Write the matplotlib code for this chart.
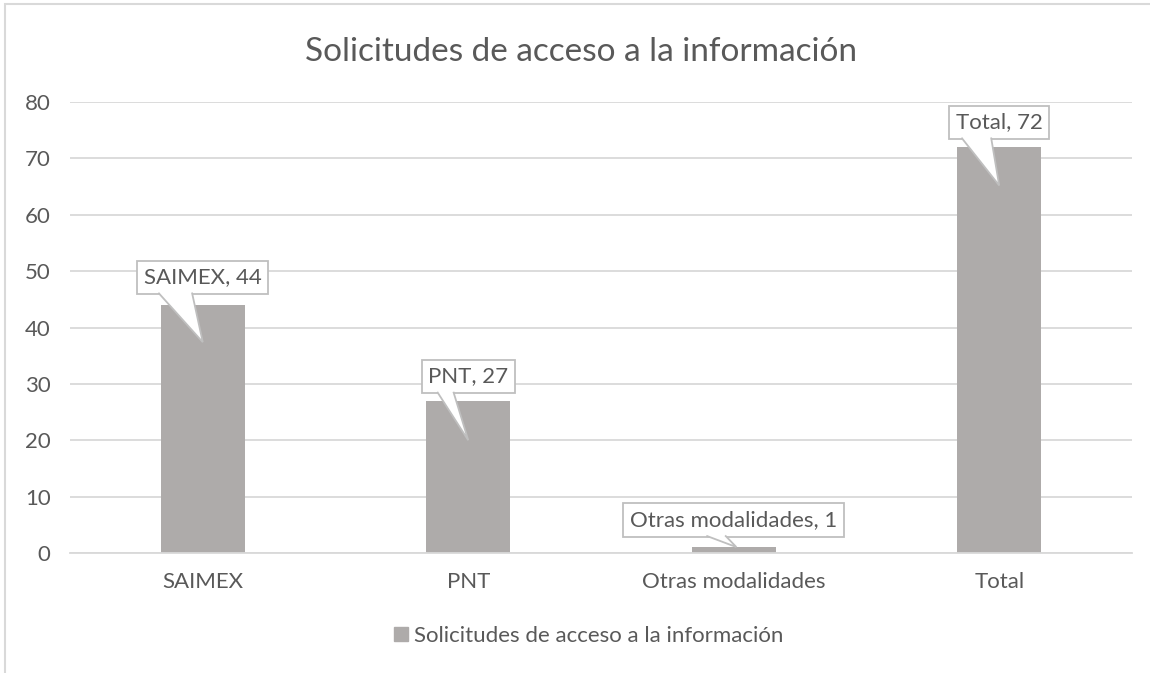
import matplotlib.pyplot as plt
from matplotlib.lines import Line2D
from matplotlib.patches import Polygon, Rectangle

# Data
categories = ["SAIMEX", "PNT", "Otras modalidades", "Total"]
values = [44, 27, 1, 72]
series_name = "Solicitudes de acceso a la información"
title = "Solicitudes de acceso a la información"
y_ticks = [0, 10, 20, 30, 40, 50, 60, 70, 80]

# Callout placement, relative to each bar (box centre / tail tip, in data units)
box_dy = [4.9, 4.3, 4.85, 4.4]
tip_dx = [0.0, 0.0, 0.01, 0.0]
tip_dy = [-6.6, -7.0, 0.05, -6.8]
tail_base = [(-0.165, -0.04), (-0.115, -0.055), (-0.10, -0.03), (-0.14, -0.03)]

BAR_COLOR = "#AEABAA"
GRID_COLOR = "#D9D9D9"
TEXT_COLOR = "#595959"
BOX_EDGE = "#BFBFBF"

plt.rcParams["font.family"] = ["Lato", "DejaVu Sans"]

fig = plt.figure(figsize=(11.5, 6.73), dpi=100)
ax = fig.add_axes([0.0609, 0.1783, 0.9234, 0.6701])

x = range(len(categories))
ax.bar(x, values, width=0.316, color=BAR_COLOR, zorder=3)

ax.set_xlim(-0.5, len(categories) - 0.5)
ax.set_ylim(0, 80)
ax.set_yticks(y_ticks)
ax.set_xticks(list(x))
ax.set_xticklabels(categories)
ax.tick_params(axis="both", length=0, labelsize=16, labelcolor=TEXT_COLOR)
ax.tick_params(axis="y", pad=14)
ax.tick_params(axis="x", pad=14)

ax.yaxis.grid(True, color=GRID_COLOR, linewidth=1.3, zorder=0)
ax.set_axisbelow(True)
for side in ["top", "right", "left"]:
    ax.spines[side].set_visible(False)
ax.spines["bottom"].set_color(GRID_COLOR)
ax.spines["bottom"].set_linewidth(1.3)
ax.spines["bottom"].set_zorder(4)

# Data callouts: boxed label plus a speech-bubble tail pointing into the bar
labels = []
for i, (cat, val) in enumerate(zip(categories, values)):
    t = ax.text(i, val + box_dy[i], f"{cat}, {val}", ha="center", va="center",
                fontsize=16, color=TEXT_COLOR, zorder=6,
                bbox=dict(boxstyle="square,pad=0.3", fc="white", ec=BOX_EDGE, lw=1.3))
    labels.append(t)

fig.canvas.draw()
inv = ax.transData.inverted()
px = abs(inv.transform((0, 0))[1] - inv.transform((0, 1))[1])  # one pixel in y data units
for i, t in enumerate(labels):
    ext = t.get_bbox_patch().get_window_extent()
    bottom = inv.transform((ext.x0, ext.y0))[1] + px * 0.6
    bl, br = i + tail_base[i][0], i + tail_base[i][1]
    tip = (i + tip_dx[i], values[i] + tip_dy[i])
    ax.add_patch(Polygon([(bl, bottom + 2 * px), (bl, bottom), tip, (br, bottom),
                          (br, bottom + 2 * px)], closed=True, fc="white", ec="none",
                         zorder=7))
    ax.add_line(Line2D([bl, tip[0], br], [bottom, tip[1], bottom], color=BOX_EDGE,
                       lw=1.3, zorder=8, solid_joinstyle="miter"))

fig.text(0.505, 0.922, title, ha="center", va="center", fontsize=24, color=TEXT_COLOR)

handle = Line2D([], [], marker="s", linestyle="none", markersize=10,
                markerfacecolor=BAR_COLOR, markeredgecolor=BAR_COLOR)
fig.legend([handle], [series_name], loc="center", bbox_to_anchor=(0.51, 0.055),
           frameon=False, fontsize=16, labelcolor=TEXT_COLOR,
           handletextpad=0.1, handlelength=1.0)

# Chart area border (left and top edges)
fig.add_artist(Rectangle((0.0045, -0.01), 1.2, 1.004, transform=fig.transFigure,
                         fill=False, ec=GRID_COLOR, lw=1.5))

fig.savefig("out.png", dpi=100)
